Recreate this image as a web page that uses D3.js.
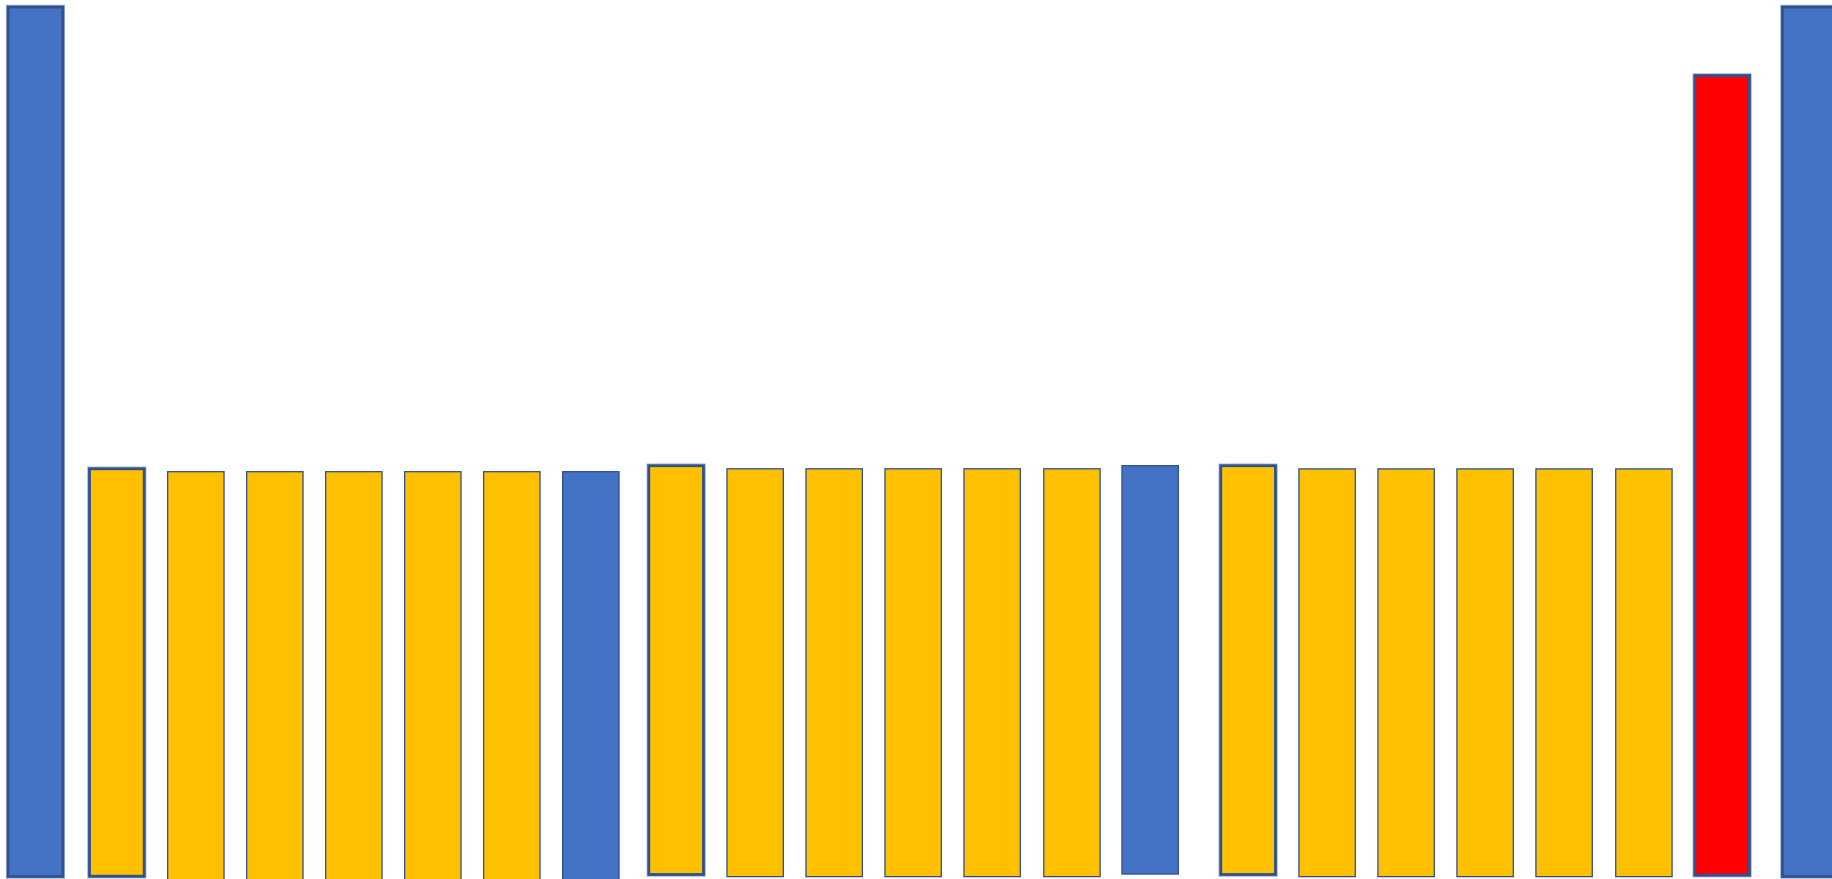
<!DOCTYPE html>
<html>
<head>
<meta charset="utf-8">
<script src="https://cdn.jsdelivr.net/npm/d3@7"></script>
<style>
  html, body { margin: 0; padding: 0; background: #fff; overflow: hidden; }
  svg { display: block; }
</style>
</head>
<body>
<script>
// bar slots (horizontal position in bar units), tops, bases, kind and selection
const categories = ["B1","B2","B3","B4","B5","B6","B7","B8","B9","B10","B11","B12",
                    "B13","B14","B15","B16","B17","B18","B19","B20","B21","B22","B23"];
const slots  = [-0.03, 1, 2, 3, 4, 5, 6, 7, 8.08, 9.08, 10.08, 11.08, 12.08, 13.09, 14.08,
                15.32, 16.32, 17.32, 18.32, 19.32, 20.33, 21.32, 22.43];
const tops   = [100, 47.04, 46.71, 46.71, 46.71, 46.71, 46.71, 46.71, 47.39, 47.04, 47.04, 47.04,
                47.04, 47.04, 47.40, 47.39, 47.03, 47.03, 47.03, 47.03, 47.03, 92.14, 100];
const bases  = [0.29, 0.32, -1, -1, -1, -1, -1, -1, 0.52, 0.27, 0.27, 0.27,
                0.27, 0.27, 0.57, 0.52, 0.27, 0.27, 0.27, 0.27, 0.27, 0.44, 0.29];
const kinds  = ["total","step","step","step","step","step","step","total","step","step","step","step",
                "step","step","total","step","step","step","step","step","step","highlight","total"];
const selected = [true, true, false, false, false, false, false, false, true, false, false, false,
                  false, false, false, true, false, false, false, false, false, true, true];

const W = 1832, H = 879;
const data = categories.map((c, i) => ({
  cat: c, slot: slots[i], top: tops[i], base: bases[i], kind: kinds[i], sel: selected[i]
}));

const x = d3.scaleLinear().domain([0, 23]).range([9, 9 + 23 * 79]);
const y = d3.scaleLinear().domain([0, 100]).range([879, 7]);
const color = d3.scaleOrdinal()
  .domain(["total", "step", "highlight"])
  .range(["#4472C4", "#FFC000", "#FF0000"]);
const barW = 0.73; // bar width in slot units

const svg = d3.select("body").append("svg")
  .attr("width", W).attr("height", H);

const g = svg.append("g");

// halo behind selected bars
g.selectAll("rect.halo")
  .data(data.filter(d => d.sel))
  .join("rect")
  .attr("class", "halo")
  .attr("x", d => x(d.slot) + 1.5)
  .attr("y", d => y(d.top))
  .attr("width", d => x(d.slot + barW) - x(d.slot) - 3)
  .attr("height", d => y(d.base) - y(d.top))
  .attr("fill", "none")
  .attr("stroke", "#2F528F")
  .attr("stroke-opacity", 0.45)
  .attr("stroke-width", 4.5);

g.selectAll("rect.bar")
  .data(data)
  .join("rect")
  .attr("class", "bar")
  .attr("x", d => x(d.slot) + (d.sel ? 1.5 : 0.65))
  .attr("y", d => y(d.top))
  .attr("width", d => x(d.slot + barW) - x(d.slot) - (d.sel ? 3 : 1.3))
  .attr("height", d => y(d.base) - y(d.top))
  .attr("fill", d => color(d.kind))
  .attr("stroke", "#2F528F")
  .attr("stroke-width", d => d.sel ? 2.8 : 1.3);
</script>
</body>
</html>
